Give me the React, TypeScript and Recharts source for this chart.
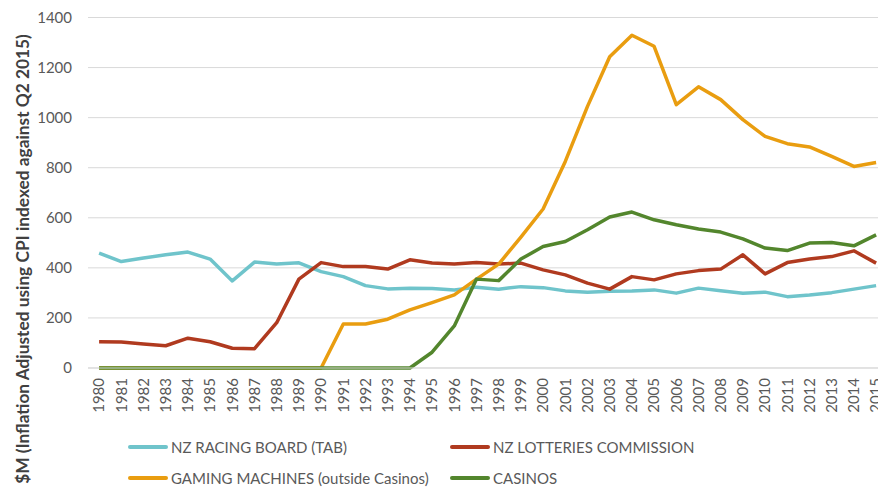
import { LineChart, Line, XAxis, YAxis, CartesianGrid, Legend } from "recharts"

const years = [
  "1980", "1981", "1982", "1983", "1984", "1985", "1986", "1987", "1988", "1989",
  "1990", "1991", "1992", "1993", "1994", "1995", "1996", "1997", "1998", "1999",
  "2000", "2001", "2002", "2003", "2004", "2005", "2006", "2007", "2008", "2009",
  "2010", "2011", "2012", "2013", "2014", "2015",
]

const racingBoard = [
  459, 425, 439, 452, 463, 435, 348, 423, 415, 420,
  385, 365, 329, 316, 319, 318, 312, 323, 315, 325,
  321, 308, 303, 307, 308, 312, 299, 319, 309, 299,
  303, 285, 292, 301, 315, 329,
]

const lotteries = [
  105, 104, 96, 89, 119, 105, 79, 77, 181, 355,
  421, 405, 405, 395, 432, 419, 415, 421, 415, 419,
  392, 372, 339, 315, 365, 352, 376, 389, 395, 452,
  376, 421, 435, 445, 468, 419,
]

const gamingMachines = [
  0, 0, 0, 0, 0, 0, 0, 0, 0, 0,
  0, 176, 176, 195, 232, 261, 292, 355, 415, 523,
  635, 825, 1045, 1243, 1329, 1285, 1052, 1123, 1072, 992,
  925, 896, 883, 845, 805, 821,
]

const casinos = [
  0, 0, 0, 0, 0, 0, 0, 0, 0, 0,
  0, 0, 0, 0, 0, 63, 168, 355, 349, 435,
  485, 505, 552, 603, 623, 592, 572, 555, 543, 516,
  479, 469, 499, 501, 488, 532,
]

const yTicks = [0, 200, 400, 600, 800, 1000, 1200, 1400]

const seriesList = [
  { key: "tab", name: "NZ RACING BOARD (TAB)", color: "#6fc4cb", values: racingBoard },
  { key: "lotto", name: "NZ LOTTERIES COMMISSION", color: "#b03a1f", values: lotteries },
  { key: "gaming", name: "GAMING MACHINES (outside Casinos)", color: "#e99d10", values: gamingMachines },
  { key: "casinos", name: "CASINOS", color: "#53862d", values: casinos },
]

const data = years.map((year, i) => {
  const row: Record<string, string | number> = { year }
  seriesList.forEach((s) => {
    row[s.key] = s.values[i]
  })
  return row
})

const FONT = "Lato, 'Open Sans', sans-serif"
const TEXT = "#595959"

const YearTick = (props: any) => {
  const { x, y, payload } = props
  return (
    <text
      x={x}
      y={y}
      transform={`rotate(-90, ${x}, ${y})`}
      textAnchor="end"
      dy="0.35em"
      fontSize={15}
      fontFamily={FONT}
      fill={TEXT}
    >
      {payload.value}
    </text>
  )
}

const legendSpots = [
  { left: 128, top: 0 },
  { left: 450, top: 0 },
  { left: 128, top: 31 },
  { left: 450, top: 31 },
]

const ChartLegend = () => (
  <div style={{ position: "relative", width: 700, height: 60 }}>
    {seriesList.map((s, i) => (
      <div
        key={s.key}
        style={{
          position: "absolute",
          left: legendSpots[i].left,
          top: legendSpots[i].top,
          display: "flex",
          alignItems: "center",
          height: 20,
          whiteSpace: "nowrap",
        }}
      >
        <span style={{ display: "inline-block", width: 40, height: 4, background: s.color, borderRadius: 2 }} />
        <span style={{ marginLeft: 3, fontFamily: FONT, fontSize: 15, color: TEXT }}>{s.name}</span>
      </div>
    ))}
  </div>
)

const App = () => {
  return (
    <div
      style={{
        position: "absolute",
        left: 0,
        top: 0,
        width: 878,
        height: 504,
        overflow: "hidden",
        background: "#fff",
      }}
    >
      <LineChart
        width={900}
        height={504}
        data={data}
        margin={{ top: 17.5, right: 12.8, left: 0, bottom: 86 }}
      >
        <CartesianGrid vertical={false} stroke="#d9d9d9" strokeWidth={1} />
        <XAxis
          dataKey="year"
          interval={0}
          height={50}
          padding={{ left: 11.1, right: 11.1 }}
          axisLine={{ stroke: "#d9d9d9" }}
          tickLine={false}
          tickMargin={4}
          tick={<YearTick />}
        />
        <YAxis
          width={88}
          domain={[0, 1400]}
          ticks={yTicks}
          axisLine={false}
          tickLine={false}
          tickMargin={10}
          tick={{ fontSize: 15, fontFamily: FONT, fill: TEXT }}
          label={{
            content: () => (
              <text
                x={23}
                y={259}
                transform="rotate(-90, 23, 259)"
                textAnchor="middle"
                dy="0.35em"
                fontSize={17.3}
                fontWeight="bold"
                fontFamily={FONT}
                fill="#404040"
              >
                $M (Inflation Adjusted using CPI indexed against Q2 2015)
              </text>
            ),
          }}
        />
        <Legend
          layout="horizontal"
          verticalAlign="middle"
          align="center"
          wrapperStyle={{ left: 0, top: 437, width: 700, height: 60 }}
          content={<ChartLegend />}
        />
        {seriesList.map((s) => (
          <Line
            key={s.key}
            type="linear"
            dataKey={s.key}
            name={s.name}
            stroke={s.color}
            strokeWidth={3.5}
            strokeLinejoin="round"
            dot={false}
            activeDot={false}
            isAnimationActive={false}
          />
        ))}
      </LineChart>
    </div>
  )
}

export default App
